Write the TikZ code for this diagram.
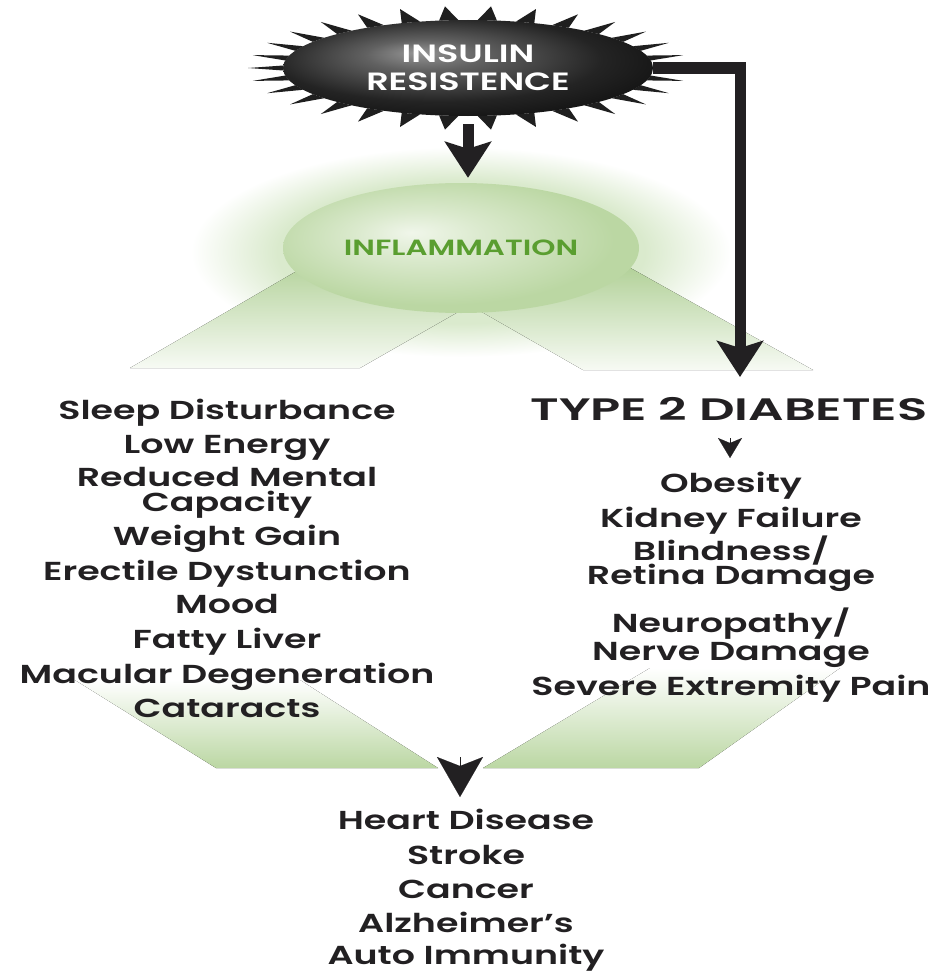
\documentclass[tikz,border=0pt]{standalone}
\usepackage{fontspec}
\setmainfont{Poppins}[FakeStretch=1.4, BoldFont={Poppins SemiBold}]
\newfontfamily\widefont{Poppins}[FakeStretch=1.6, BoldFont={Poppins SemiBold}]
\usetikzlibrary{arrows.meta,shapes.geometric}
\definecolor{leaf}{HTML}{BBD7A3}
\definecolor{leafdeep}{HTML}{A8CB8B}
\definecolor{leafpale}{HTML}{F0F6EA}
\definecolor{leafdark}{HTML}{5A9E30}
\definecolor{halo}{HTML}{DAEACD}
\definecolor{ink}{HTML}{222022}
\pgfdeclareradialshading{irball}{\pgfpoint{-7bp}{8bp}}{color(0bp)=(black!42); color(8bp)=(black!62); color(22bp)=(black!86); color(30bp)=(black!92); color(50bp)=(black!92)}
\pgfdeclareradialshading{inflball}{\pgfpoint{-7bp}{6bp}}{color(0bp)=(leafpale); color(9bp)=(leafpale!60!leaf); color(25bp)=(leaf); color(50bp)=(leaf)}
\pgfdeclareradialshading{inflhalo}{\pgfpoint{0bp}{0bp}}{color(0bp)=(halo); color(17bp)=(halo); color(25bp)=(white); color(50bp)=(white)}

\begin{document}
\begin{tikzpicture}[x=1pt,y=-1pt,
  item/.style={anchor=base,inner sep=1pt,text=ink,font=\fontsize{26}{30}\selectfont\bfseries},
  bigarrow/.style={draw=ink,line width=11pt,-{Stealth[length=36pt,width=46pt,inset=7pt]}},
  tinytip/.style={draw=ink,line width=0.1pt,-{Stealth[length=20pt,width=24pt,inset=5pt]}},
  jointip/.style={draw=ink,line width=0.1pt,-{Stealth[length=40pt,width=46pt,inset=9pt]}}]
\useasboundingbox (0,0) rectangle (941,974);

% glow and green bands
\shade[shading=inflhalo] (461,252) ellipse [x radius=270pt, y radius=105pt];
\fill[top color=leafdeep, bottom color=leaf!12] (130,368) -- (360,368) -- (500,288) -- (345,243) -- cycle;
\fill[top color=leafdeep, bottom color=leaf!12] (583,370) -- (813,370) -- (600,251) -- (440,288) -- cycle;
\fill[top color=white, bottom color=leaf] (75,680) -- (300,680) -- (438,768) -- (216,768) -- cycle;
\fill[top color=white, bottom color=leaf] (483,768) -- (699,768) -- (840,668) -- (650,668) -- cycle;

\node[ellipse, shading=inflball, minimum width=356pt, minimum height=130pt, inner sep=0pt,
  text=leafdark, font=\fontsize{22}{26}\selectfont\bfseries] (infl) at (461,248) {INFLAMMATION};

% starburst
\foreach \a in {0,12,...,350} {
  \fill[black!88] ({468+185*cos(\a-3)},{68+48*sin(\a-3)}) -- ({468+220*cos(\a)},{68+62*sin(\a)})
    -- ({468+185*cos(\a+3)},{68+48*sin(\a+3)}) -- cycle;
}
\node[ellipse, shading=irball, minimum width=370pt, minimum height=96pt, inner sep=0pt,
  align=center, text=white, font=\fontsize{25}{28}\selectfont\bfseries] (ir) at (468,68) {INSULIN\\RESISTENCE};

% left column
\node[item] (sleep) at (227,419) {Sleep Disturbance};
\node[item] (energy) at (227,453) {Low Energy};
\node[item] (mental) at (227,486) {Reduced Mental};
\node[item] (capacity) at (227,511) {Capacity};
\node[item] (weight) at (227,545) {Weight Gain};
\node[item] (erectile) at (227,580) {Erectile Dystunction};
\node[item] (mood) at (227,613) {Mood};
\node[item] (liver) at (227,648) {Fatty Liver};
\node[item] (macular) at (227,683) {Macular Degeneration};
\node[item] (cataracts) at (227,717) {Cataracts};

% right column
\node[item, font=\fontsize{31}{34}\selectfont\widefont\bfseries] (t2d) at (729,420) {TYPE 2 DIABETES};
\node[item] (obesity) at (731,492) {Obesity};
\node[item] (kidney) at (731,527) {Kidney Failure};
\node[item] (blind) at (731,560) {Blindness/};
\node[item] (retina) at (731,584) {Retina Damage};
\node[item] (neuro) at (731,632) {Neuropathy/};
\node[item] (nerve) at (731,660) {Nerve Damage};
\node[item] (pain) at (731,695) {Severe Extremity Pain};

% bottom
\node[item] (heart) at (466,829) {Heart Disease};
\node[item] (stroke) at (466,864) {Stroke};
\node[item] (cancer) at (466,898) {Cancer};
\node[item] (alz) at (466,932) {Alzheimer's};
\node[item] (auto) at (466,964) {Auto Immunity};

% connectors
\coordinate (t2dtip) at (740,377);
\coordinate (t2dtail) at (730,438);
\coordinate (t2dhead) at (730,458);
\coordinate (jointail) at (460,757);
\coordinate (joinhead) at (460,797);
\draw[bigarrow, shorten <=8pt, shorten >=5pt] (ir.south) -- (ir.south |- infl.north);
\draw[bigarrow] (ir.east) -| (t2dtip);
\draw[tinytip] (t2dtail) -- (t2dhead);
\draw[jointip] (jointail) -- (joinhead);
\end{tikzpicture}
\end{document}
